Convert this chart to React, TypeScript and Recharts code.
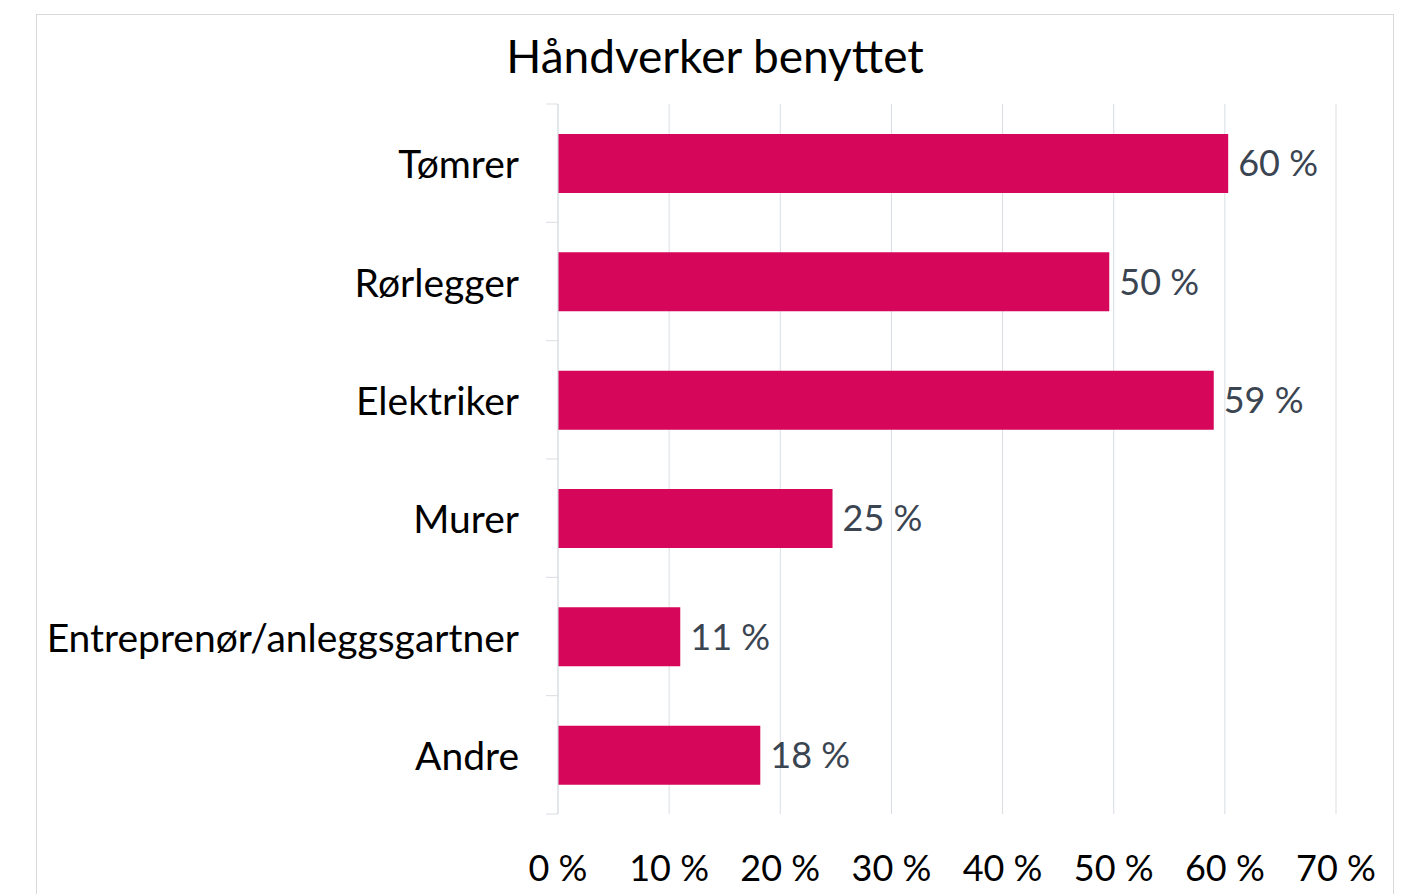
import { BarChart, Bar, XAxis, YAxis, CartesianGrid, LabelList } from "recharts";

const categories = ["Tømrer", "Rørlegger", "Elektriker", "Murer", "Entreprenør/anleggsgartner", "Andre"];
const shares = [60.3, 49.6, 59.0, 24.7, 11.0, 18.2];
const xTicks = [0, 10, 20, 30, 40, 50, 60, 70];

const data = categories.map((name, i) => ({ name, value: shares[i] }));

const FONT = "Lato, 'Open Sans', sans-serif";
const EDGE = "#d9dde3";

// category label plus the small tick marks between categories
function CategoryTick(props: any) {
  const { x, y, payload, index, visibleTicksCount } = props;
  const half = payload.offset || 0;
  const axisX = x + 39;
  const last = index === visibleTicksCount - 1;
  return (
    <g>
      <line x1={axisX - 12} x2={axisX} y1={y - half} y2={y - half} stroke={EDGE} />
      {last && <line x1={axisX - 12} x2={axisX} y1={y + half} y2={y + half} stroke={EDGE} />}
      <text
        x={x}
        y={y}
        textAnchor="end"
        dominantBaseline="central"
        fill="#000"
        fontSize={39}
        fontFamily={FONT}
      >
        {payload.value}
      </text>
    </g>
  );
}

export default function App() {
  return (
    <div style={{ position: "absolute", left: 0, top: 0, width: 1402, height: 894, background: "#fff", overflow: "hidden" }}>
      <div
        style={{
          position: "absolute",
          left: 36,
          top: 14,
          width: 1356,
          height: 900,
          border: "1px solid #d9d9d9",
        }}
      />
      <div
        style={{
          position: "absolute",
          left: 0,
          width: 1430,
          top: 28,
          textAlign: "center",
          fontFamily: FONT,
          fontSize: 46,
          color: "#000",
        }}
      >
        Håndverker benyttet
      </div>
      <div style={{ position: "absolute", left: 0, top: 0 }}>
        <BarChart
          width={1402}
          height={894}
          data={data}
          layout="vertical"
          margin={{ top: 104, right: 66, bottom: 0, left: 0 }}
        >
          <CartesianGrid horizontal={false} stroke={EDGE} />
          <XAxis
            type="number"
            domain={[0, 70]}
            ticks={xTicks}
            tickFormatter={(v) => `${v} %`}
            axisLine={false}
            tickLine={false}
            tickSize={0}
            tickMargin={41}
            height={80}
            tick={{ fill: "#000", fontSize: 36, fontFamily: FONT }}
          />
          <YAxis
            type="category"
            dataKey="name"
            width={558}
            axisLine={{ stroke: EDGE }}
            tickLine={false}
            tickSize={0}
            tickMargin={39}
            tick={<CategoryTick />}
          />
          <Bar dataKey="value" fill="#d6065a" barSize={59} isAnimationActive={false}>
            <LabelList
              dataKey="value"
              position="right"
              offset={10}
              formatter={(v: number) => `${Math.round(v)} %`}
              style={{ fill: "#3b4552", fontSize: 36, fontFamily: FONT }}
            />
          </Bar>
        </BarChart>
      </div>
    </div>
  );
}
